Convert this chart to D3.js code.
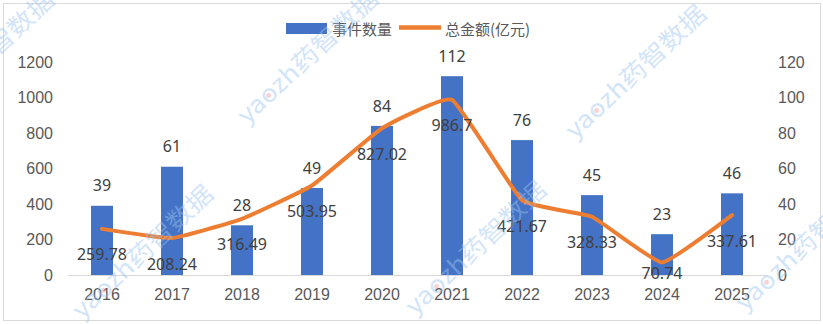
<!DOCTYPE html>
<html>
<head>
<meta charset="utf-8">
<script src="https://cdn.jsdelivr.net/npm/d3@7"></script>
<style>
  html, body { margin: 0; padding: 0; background: #fff; }
  svg { display: block; font-family: "Noto Sans", "Noto Sans CJK SC", sans-serif; }
</style>
</head>
<body>
<svg id="chart" width="823" height="324"></svg>
<script>
// Yearly deal counts (bars, right axis) and total amount in 亿元 (line, left axis)
const years = ["2016", "2017", "2018", "2019", "2020", "2021", "2022", "2023", "2024", "2025"];
const eventCounts = [39, 61, 28, 49, 84, 112, 76, 45, 23, 46];
const totalAmounts = [259.78, 208.24, 316.49, 503.95, 827.02, 986.7, 421.67, 328.33, 70.74, 337.61];
const leftTicks = [0, 200, 400, 600, 800, 1000, 1200];
const rightTicks = [0, 20, 40, 60, 80, 100, 120];
const seriesNames = ["事件数量", "总金额(亿元)"];

const BAR_COLOR = "#4472C4";
const LINE_COLOR = "#ED7D31";
const AXIS_TEXT = "#595959";
const LABEL_TEXT = "#404040";

const svg = d3.select("#chart");
const plot = { left: 67, right: 767, top: 62, bottom: 275 };

const x = d3.scaleBand().domain(years).range([plot.left, plot.right]).padding(0);
const yLeft = d3.scaleLinear().domain([0, 1200]).range([plot.bottom, plot.top]);
const yRight = d3.scaleLinear().domain([0, 120]).range([plot.bottom, plot.top]);
const barW = x.bandwidth() * 0.314;
const cx = d => x(d) + x.bandwidth() / 2;

// outer frame
svg.append("rect")
  .attr("x", 3.5).attr("y", 3.5).attr("width", 817).attr("height", 317)
  .attr("fill", "#fff").attr("stroke", "#d9d9d9").attr("stroke-width", 1);

// left axis
svg.append("g")
  .attr("transform", `translate(${plot.left},0)`)
  .call(d3.axisLeft(yLeft).tickValues(leftTicks).tickFormat(d3.format("d")).tickSize(0).tickPadding(14))
  .call(g => g.select(".domain").remove())
  .call(g => g.selectAll("text").attr("fill", AXIS_TEXT).style("font-size", "16px"));

// right axis
svg.append("g")
  .attr("transform", `translate(${plot.right},0)`)
  .call(d3.axisRight(yRight).tickValues(rightTicks).tickFormat(d3.format("d")).tickSize(0).tickPadding(11))
  .call(g => g.select(".domain").remove())
  .call(g => g.selectAll("text").attr("fill", AXIS_TEXT).style("font-size", "16px"));

// category axis
svg.append("g")
  .attr("transform", `translate(0,${plot.bottom})`)
  .call(d3.axisBottom(x).tickSize(0).tickPadding(14))
  .call(g => g.select(".domain").attr("stroke", "#d9d9d9"))
  .call(g => g.selectAll("text").attr("fill", AXIS_TEXT).style("font-size", "16px"));

// bars
svg.append("g").selectAll("rect")
  .data(years.map((yr, i) => ({ yr, v: eventCounts[i] })))
  .join("rect")
  .attr("x", d => cx(d.yr) - barW / 2)
  .attr("y", d => yRight(d.v))
  .attr("width", barW)
  .attr("height", d => plot.bottom - yRight(d.v))
  .attr("fill", BAR_COLOR);

// amount line
const linePts = years.map((yr, i) => ({ yr, v: totalAmounts[i] }));
svg.append("path")
  .datum(linePts)
  .attr("fill", "none")
  .attr("stroke", LINE_COLOR)
  .attr("stroke-width", 4)
  .attr("stroke-linejoin", "round")
  .attr("stroke-linecap", "round")
  .attr("d", d3.line().x(d => cx(d.yr)).y(d => yLeft(d.v)).curve(d3.curveCardinal.tension(0.65)));

// bar value labels
svg.append("g").selectAll("text")
  .data(years.map((yr, i) => ({ yr, v: eventCounts[i] })))
  .join("text")
  .attr("x", d => cx(d.yr))
  .attr("y", d => yRight(d.v) - 20)
  .attr("dy", "0.35em")
  .attr("text-anchor", "middle")
  .attr("fill", LABEL_TEXT)
  .style("font-size", "16px")
  .text(d => d.v);

// line value labels, placed under each point
svg.append("g").selectAll("text")
  .data(linePts)
  .join("text")
  .attr("x", d => cx(d.yr))
  .attr("y", d => Math.min(yLeft(d.v) + 26, 273))
  .attr("dy", "0.35em")
  .attr("text-anchor", "middle")
  .attr("fill", LABEL_TEXT)
  .style("font-size", "16px")
  .text(d => d.v);

// legend
const legend = svg.append("g");
legend.append("rect").attr("x", 286).attr("y", 23).attr("width", 41).attr("height", 11).attr("fill", BAR_COLOR);
legend.append("text").attr("x", 332).attr("y", 29.5).attr("dy", "0.35em")
  .attr("fill", AXIS_TEXT).style("font-size", "15px")
  .style("font-family", "'Noto Sans CJK SC', sans-serif").text(seriesNames[0]);
legend.append("line").attr("x1", 399).attr("x2", 441).attr("y1", 27.5).attr("y2", 27.5)
  .attr("stroke", LINE_COLOR).attr("stroke-width", 4.5);
legend.append("text").attr("x", 445).attr("y", 29.5).attr("dy", "0.35em")
  .attr("fill", AXIS_TEXT).style("font-size", "15px")
  .style("font-family", "'Noto Sans CJK SC', sans-serif").text(seriesNames[1]);

// brand watermarks
const stamps = [[-77, 126], [82, 320], [247, 125], [415, 316], [575, 140], [745, 312]];
const wm = svg.append("g").attr("pointer-events", "none");
stamps.forEach(([sx, sy]) => {
  const g = wm.append("g").attr("transform", `translate(${sx},${sy}) rotate(-43)`).attr("opacity", 0.45);
  g.append("text")
    .attr("x", 0).attr("y", 0)
    .attr("fill", "#9cc4f0")
    .style("font-size", "24px")
    .style("font-family", "'Noto Sans CJK SC', sans-serif")
    .attr("textLength", 182)
    .attr("lengthAdjust", "spacingAndGlyphs")
    .text("yaozh药智数据");
  g.append("circle").attr("cx", 36).attr("cy", -7).attr("r", 2.5).attr("fill", "#f2a0a0");
});
</script>
</body>
</html>
